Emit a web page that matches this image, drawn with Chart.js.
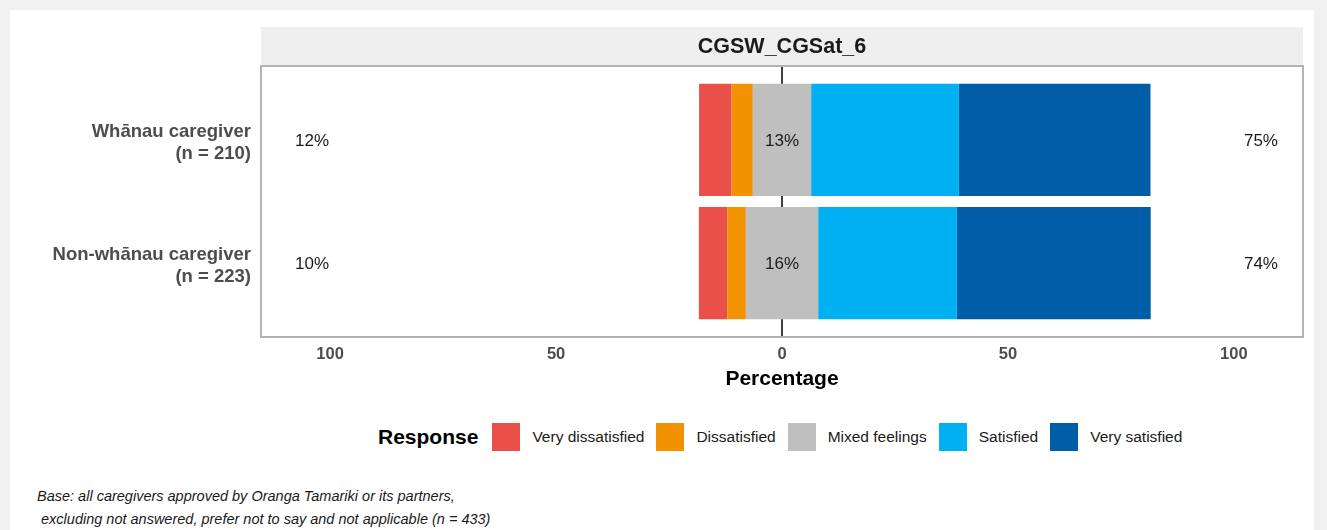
<!DOCTYPE html>
<html>
<head>
<meta charset="utf-8">
<script src="https://cdn.jsdelivr.net/npm/chart.js@4.4.1/dist/chart.umd.min.js"></script>
<style>
  body { margin: 0; background: #f0f0f0; font-family: "Liberation Sans", Arial, sans-serif; }
  .card { position: absolute; left: 10px; top: 10px; width: 1304px; height: 520px; background: #fff; }
  #chart { position: absolute; left: 0; top: 0; }
  .legend { position: absolute; left: 368px; top: 413px; height: 28px; display: flex; align-items: center; color: #1a1a1a; }
  .legend .title { font-weight: bold; font-size: 21px; margin-right: 14px; color: #000; }
  .legend .box { width: 28px; height: 28px; }
  .legend .lab { font-size: 15.5px; margin: 0 12px; }
  .note { position: absolute; left: 27px; top: 475px; font-style: italic; font-size: 14.5px; line-height: 23px; color: #1a1a1a; white-space: pre; }
</style>
</head>
<body>
<div class="card">
  <canvas id="chart" width="1304" height="400"></canvas>
  <div class="legend" id="legend"><span class="title">Response</span></div>
  <div class="note">Base: all caregivers approved by Oranga Tamariki or its partners,
 excluding not answered, prefer not to say and not applicable (n = 433)</div>
</div>
<script>
// Data (percent of each group)
const categories = [['Whānau caregiver', '(n = 210)'], ['Non-whānau caregiver', '(n = 223)']];
const responses = ['Very dissatisfied', 'Dissatisfied', 'Mixed feelings', 'Satisfied', 'Very satisfied'];
const colours = ['#e9504a', '#f39200', '#bfbfbf', '#00b0f0', '#005ea8'];
const veryDissatisfied = [7.2, 6.3];
const dissatisfied = [4.7, 4.1];
const mixedFeelings = [12.9, 16.0];
const satisfied = [32.7, 30.7];
const verySatisfied = [42.4, 42.9];
const xTicks = [-100, -50, 0, 50, 100];

const FONT = '"Liberation Sans", Arial, sans-serif';
const EXPAND = 12.3;   // extra panel space above/below the category band (ggplot style)

// legend
const legend = document.getElementById('legend');
responses.forEach((r, i) => {
    const box = document.createElement('span');
    box.className = 'box';
    box.style.background = colours[i];
    const lab = document.createElement('span');
    lab.className = 'lab';
    lab.textContent = r;
    legend.appendChild(box);
    legend.appendChild(lab);
});

// diverging bars: mixed feelings split half each side of zero
const half = (vals, sign) => vals.map(v => sign * v);
const datasets = [
    { label: responses[2], data: half(mixedFeelings, -0.5), backgroundColor: colours[2] },
    { label: responses[1], data: half(dissatisfied, -1), backgroundColor: colours[1] },
    { label: responses[0], data: half(veryDissatisfied, -1), backgroundColor: colours[0] },
    { label: responses[2], data: half(mixedFeelings, 0.5), backgroundColor: colours[2] },
    { label: responses[3], data: half(satisfied, 1), backgroundColor: colours[3] },
    { label: responses[4], data: half(verySatisfied, 1), backgroundColor: colours[4] }
];

const pct = v => Math.round(v) + '%';

const panelDecor = {
    id: 'panelDecor',
    beforeDraw(chart) {
        const { ctx, chartArea: a } = chart;
        const top = a.top - EXPAND;
        ctx.save();
        ctx.fillStyle = '#efefef';
        ctx.fillRect(a.left, top - 39, a.right - a.left, 39);
        ctx.fillStyle = '#1a1a1a';
        ctx.font = 'bold 21.5px ' + FONT;
        ctx.textAlign = 'center';
        ctx.textBaseline = 'middle';
        ctx.fillText('CGSW_CGSat_6', (a.left + a.right) / 2, top - 19);
        ctx.restore();
    },
    afterDatasetsDraw(chart) {
        const { ctx, chartArea: a, scales: { x, y } } = chart;
        // zero line, only in the gaps between bars (bars sit on top of it)
        const x0 = x.getPixelForValue(0);
        const bars = chart.getDatasetMeta(0).data;
        let from = a.top - EXPAND;
        ctx.save();
        ctx.strokeStyle = '#000';
        ctx.lineWidth = 1.5;
        ctx.beginPath();
        bars.forEach(b => {
            ctx.moveTo(x0, from);
            ctx.lineTo(x0, b.y - b.height / 2);
            from = b.y + b.height / 2;
        });
        ctx.moveTo(x0, from);
        ctx.lineTo(x0, a.bottom + EXPAND);
        ctx.stroke();

        ctx.fillStyle = '#1a1a1a';
        ctx.font = '17px ' + FONT;
        ctx.textAlign = 'center';
        ctx.textBaseline = 'middle';
        categories.forEach((c, i) => {
            const py = y.getPixelForValue(i) + 1.5;
            ctx.fillText(pct(veryDissatisfied[i] + dissatisfied[i]), x.getPixelForValue(-104), py);
            ctx.fillText(pct(mixedFeelings[i]), x.getPixelForValue(0), py);
            ctx.fillText(pct(satisfied[i] + verySatisfied[i]), x.getPixelForValue(106), py);
        });
        ctx.restore();
    },
    afterDraw(chart) {
        const { ctx, chartArea: a } = chart;
        ctx.save();
        ctx.strokeStyle = '#b3b3b3';
        ctx.lineWidth = 2;
        ctx.strokeRect(a.left, a.top - EXPAND, a.right - a.left, a.bottom - a.top + 2 * EXPAND);
        ctx.restore();
    }
};

new Chart(document.getElementById('chart'), {
    type: 'bar',
    data: { labels: categories, datasets },
    options: {
        responsive: false,
        animation: false,
        indexAxis: 'y',
        barPercentage: 0.91,
        categoryPercentage: 1,
        layout: { padding: { top: 56 + EXPAND, left: 0, right: 11, bottom: 13 } },
        plugins: { legend: { display: false }, tooltip: { enabled: false } },
        scales: {
            x: {
                type: 'linear',
                stacked: true,
                min: -115.3,
                max: 115.3,
                afterBuildTicks: s => { s.ticks = xTicks.map(v => ({ value: v })); },
                afterFit: s => { s.height = 60 + EXPAND; },
                ticks: {
                    callback: v => Math.abs(v),
                    font: { family: FONT, size: 16.5, weight: 'bold' },
                    color: '#4d4d4d',
                    padding: 8 + EXPAND
                },
                grid: { display: false, drawTicks: false, tickLength: 0 },
                border: { display: false },
                title: {
                    display: true,
                    text: 'Percentage',
                    color: '#000',
                    font: { family: FONT, size: 21, weight: 'bold' },
                    padding: { top: 0, bottom: 5 }
                }
            },
            y: {
                type: 'category',
                stacked: true,
                offset: true,
                afterFit: s => { s.width = 251; },
                ticks: {
                    font: { family: FONT, size: 18.5, weight: 'bold', lineHeight: 1.19 },
                    color: '#4d4d4d',
                    padding: 10,
                    labelOffset: 3
                },
                grid: { display: false, drawTicks: false, tickLength: 0 },
                border: { display: false }
            }
        }
    },
    plugins: [panelDecor]
});
</script>
</body>
</html>
